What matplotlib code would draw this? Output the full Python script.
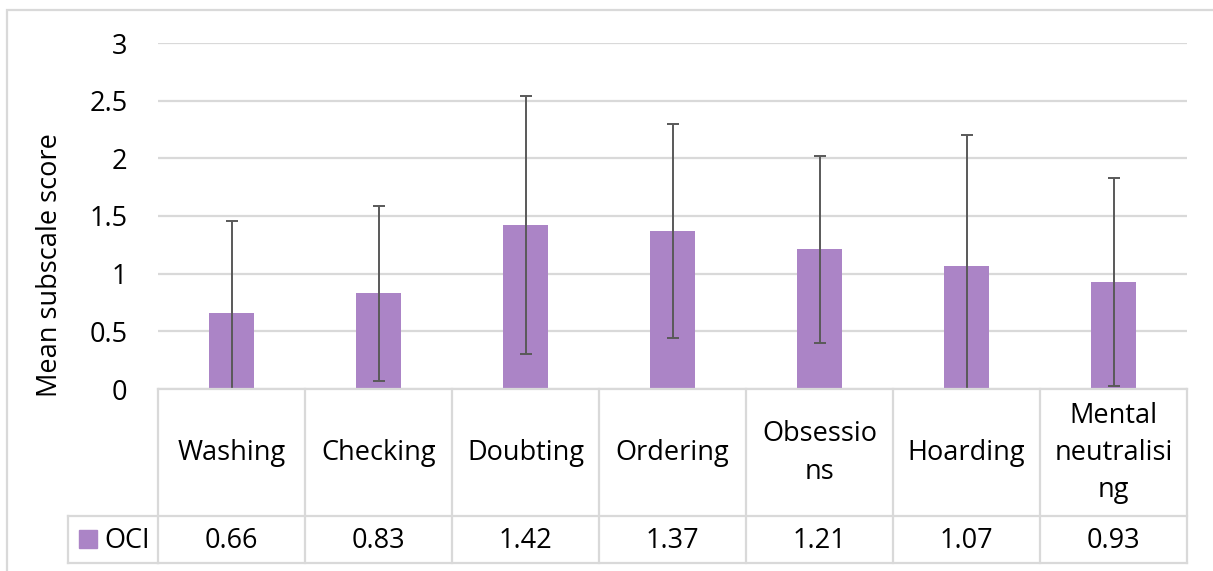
import matplotlib
matplotlib.use("Agg")
import matplotlib.pyplot as plt
from matplotlib.patches import Rectangle
from matplotlib.transforms import blended_transform_factory

plt.rcParams['font.family'] = ['Open Sans', 'DejaVu Sans']

categories = ["Washing", "Checking", "Doubting", "Ordering", "Obsessions", "Hoarding", "Mental neutralising"]
header_labels = ["Washing", "Checking", "Doubting", "Ordering", "Obsessio\nns", "Hoarding", "Mental\nneutralisi\nng"]
oci_means = [0.66, 0.83, 1.42, 1.37, 1.21, 1.07, 0.93]
oci_sd = [0.80, 0.76, 1.12, 0.93, 0.81, 1.13, 0.90]
series_name = "OCI"
y_ticks = [0, 0.5, 1, 1.5, 2, 2.5, 3]
y_tick_labels = ["0", "0.5", "1", "1.5", "2", "2.5", "3"]

W, H = 1213, 571
FS = 19.5
fig = plt.figure(figsize=(W / 100, H / 100), dpi=100)

bar_color = "#ab84c6"
grid_color = "#d9d9d9"
err_color = "#595959"

# plot area in pixel coordinates
px_left, px_right, px_top, px_bottom = 158, 1187, 43, 389
ax = fig.add_axes([px_left / W, 1 - px_bottom / H, (px_right - px_left) / W, (px_bottom - px_top) / H])

x = list(range(len(categories)))
ax.bar(x, oci_means, width=0.31, color=bar_color, zorder=2)
ax.errorbar(x, oci_means, yerr=oci_sd, fmt="none", ecolor=err_color, elinewidth=1.4,
            capsize=4.3, capthick=1.4, zorder=3)

ax.set_xlim(-0.5, len(categories) - 0.5)
ax.set_ylim(0, 3)
ax.set_yticks(y_ticks)
ax.set_yticklabels(y_tick_labels, fontsize=FS)
ax.tick_params(axis="y", length=0, pad=22)
ax.set_xticks([])
ax.yaxis.grid(True, color=grid_color, linewidth=1.6, zorder=0)
for s in ax.spines.values():
    s.set_visible(False)
ax.set_ylabel("Mean subscale score", fontsize=FS)
ax.yaxis.set_label_coords(-0.091, 0.358)

# data table below the plot
trans = blended_transform_factory(ax.transData, fig.transFigure)
def fy(py):
    return 1 - py / H

row_top, row_mid, row_bot = 389, 516, 563
lw = 1.6
tbl_kw = dict(color=grid_color, linewidth=lw, transform=trans, clip_on=False)
fig_kw = dict(color=grid_color, linewidth=lw, transform=fig.transFigure)
# horizontal lines
for py in (row_top, row_bot):
    fig.add_artist(plt.Line2D([-0.5, len(categories) - 0.5], [fy(py)] * 2, **tbl_kw))
fig.add_artist(plt.Line2D([68 / W, px_right / W], [fy(row_mid)] * 2, **fig_kw))
fig.add_artist(plt.Line2D([68 / W, px_left / W], [fy(row_bot)] * 2, **fig_kw))
fig.add_artist(plt.Line2D([68 / W, 68 / W], [fy(row_mid), fy(row_bot)], **fig_kw))
# vertical lines
for i in range(len(categories) + 1):
    xv = i - 0.5
    fig.add_artist(plt.Line2D([xv, xv], [fy(row_top), fy(row_bot)], **tbl_kw))

for i, (lab, v) in enumerate(zip(header_labels, oci_means)):
    fig.text(i, fy(453), lab, transform=trans, ha="center", va="center",
             fontsize=FS, linespacing=1.45)
    fig.text(i, fy(541), f"{v:.2f}", transform=trans, ha="center",
             va="center", fontsize=FS)

# legend key inside the table
fig.add_artist(Rectangle((79 / W, fy(548)), 18 / W, 18 / H, color=bar_color,
                         transform=fig.transFigure))
fig.text(104 / W, fy(541), series_name, ha="left", va="center", fontsize=FS)

# chart border
fig.add_artist(Rectangle((7 / W, -0.01), 1.02 - 7 / W, fy(10) + 0.01, fill=False,
                         edgecolor=grid_color, linewidth=lw, transform=fig.transFigure))

fig.savefig("out.png", dpi=100, facecolor="white")
